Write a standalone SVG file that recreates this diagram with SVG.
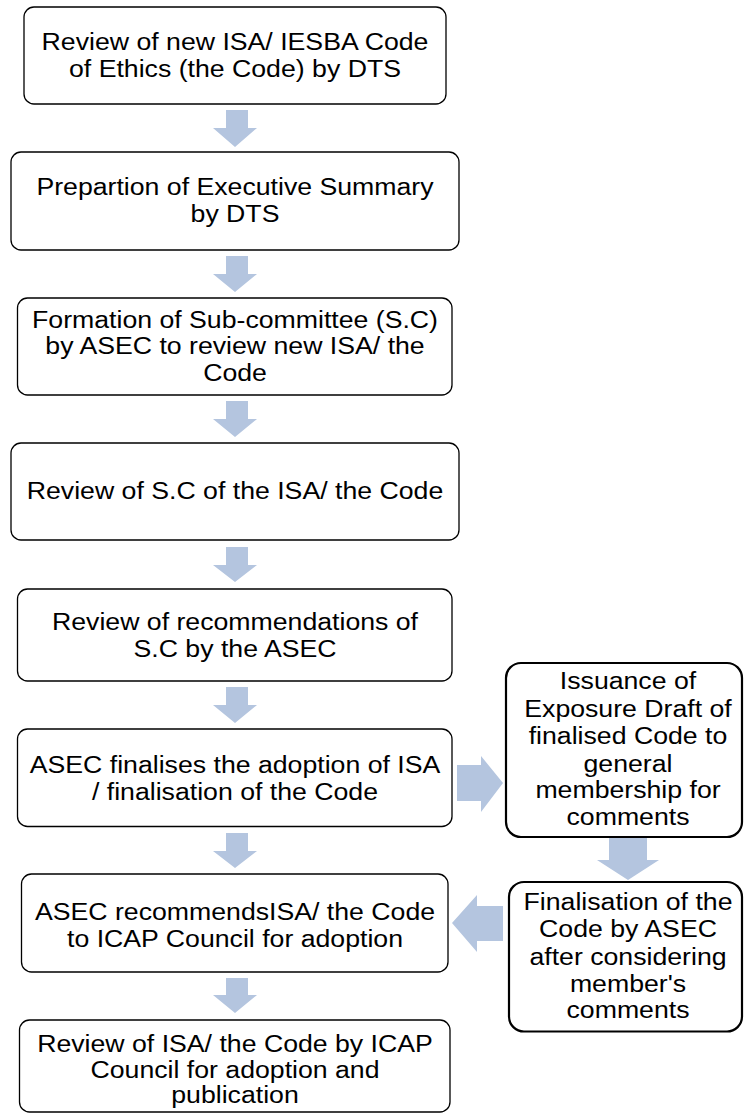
<svg xmlns="http://www.w3.org/2000/svg" width="744" height="1115" viewBox="0 0 744 1115">
<style>
.box{fill:#fff;stroke:#000;stroke-width:1.3}
.box2{fill:#fff;stroke:#000;stroke-width:2.2}
.arr{fill:#B4C5DF}
text{font-family:"Liberation Sans",Arial,sans-serif;font-size:23px;fill:#000;text-anchor:middle}
</style>
<rect width="744" height="1115" fill="#fff"/>
<g id="connectors">
<polygon class="arr" points="226,110 248,110 248,128 257,128 235,147 213,128 226,128"/>
<polygon class="arr" points="226,256 248,256 248,274 257,274 235,292 213,274 226,274"/>
<polygon class="arr" points="226,401 248,401 248,419 257,419 235,437 213,419 226,419"/>
<polygon class="arr" points="226,547 248,547 248,565 257,565 235,582 213,565 226,565"/>
<polygon class="arr" points="226,687 248,687 248,705 257,705 235,723 213,705 226,705"/>
<polygon class="arr" points="226,833 248,833 248,851 257,851 235,868 213,851 226,851"/>
<polygon class="arr" points="226,978 248,978 248,995 257,995 235,1013 213,995 226,995"/>
<polygon class="arr" points="457,765 481,765 481,756 503,783 481,812 481,801 457,801"/>
<polygon class="arr" points="609,838 647,838 647,860 659,860 628,880 597,860 609,860"/>
<polygon class="arr" points="503,906 477,906 477,895 452,923 477,952 477,941 503,941"/>
</g>
<g id="n1"><rect class="box" x="24" y="7" width="422" height="97" rx="10"/><text transform="matrix(1.16 0 0 1 235 50)">Review of new ISA/ IESBA Code</text><text transform="matrix(1.16 0 0 1 235 77)">of Ethics (the Code) by DTS</text></g>
<g id="n2"><rect class="box" x="11" y="152" width="448" height="98" rx="10"/><text transform="matrix(1.16 0 0 1 235 195)">Prepartion of Executive Summary</text><text transform="matrix(1.16 0 0 1 235 222)">by DTS</text></g>
<g id="n3"><rect class="box" x="17.5" y="298" width="434.5" height="97" rx="10"/><text transform="matrix(1.16 0 0 1 235 328)">Formation of Sub-committee (S.C)</text><text transform="matrix(1.16 0 0 1 235 354)">by ASEC to review new ISA/ the</text><text transform="matrix(1.16 0 0 1 235 381)">Code</text></g>
<g id="n4"><rect class="box" x="11" y="443" width="448" height="97" rx="10"/><text transform="matrix(1.16 0 0 1 235 499)">Review of S.C of the ISA/ the Code</text></g>
<g id="n5"><rect class="box" x="17.5" y="589" width="434.5" height="92" rx="10"/><text transform="matrix(1.16 0 0 1 235 630)">Review of recommendations of</text><text transform="matrix(1.16 0 0 1 235 657)">S.C by the ASEC</text></g>
<g id="n6"><rect class="box" x="17.5" y="729" width="434.5" height="97.5" rx="10"/><text transform="matrix(1.16 0 0 1 235 773)">ASEC finalises the adoption of ISA</text><text transform="matrix(1.16 0 0 1 235 800)">/ finalisation of the Code</text></g>
<g id="n7"><rect class="box" x="21.5" y="874" width="426.5" height="98" rx="10"/><text transform="matrix(1.16 0 0 1 235 920)">ASEC recommendsISA/ the Code</text><text transform="matrix(1.16 0 0 1 235 947)">to ICAP Council for adoption</text></g>
<g id="n8"><rect class="box" x="19.5" y="1020" width="430.5" height="92" rx="10"/><text transform="matrix(1.16 0 0 1 235 1052)">Review of ISA/ the Code by ICAP</text><text transform="matrix(1.16 0 0 1 235 1078)">Council for adoption and</text><text transform="matrix(1.16 0 0 1 235 1103)">publication</text></g>
<g id="n9"><rect class="box2" x="506" y="663" width="236" height="174" rx="15"/><text transform="matrix(1.16 0 0 1 628 689)">Issuance of</text><text transform="matrix(1.16 0 0 1 628 717)">Exposure Draft of</text><text transform="matrix(1.16 0 0 1 628 744)">finalised Code to</text><text transform="matrix(1.16 0 0 1 628 772)">general</text><text transform="matrix(1.16 0 0 1 628 798)">membership for</text><text transform="matrix(1.16 0 0 1 628 825)">comments</text></g>
<g id="n10"><rect class="box2" x="509" y="882" width="233" height="149.5" rx="15"/><text transform="matrix(1.16 0 0 1 628 910)">Finalisation of the</text><text transform="matrix(1.16 0 0 1 628 937)">Code by ASEC</text><text transform="matrix(1.16 0 0 1 628 965)">after considering</text><text transform="matrix(1.16 0 0 1 628 992)">member's</text><text transform="matrix(1.16 0 0 1 628 1018)">comments</text></g>
</svg>
